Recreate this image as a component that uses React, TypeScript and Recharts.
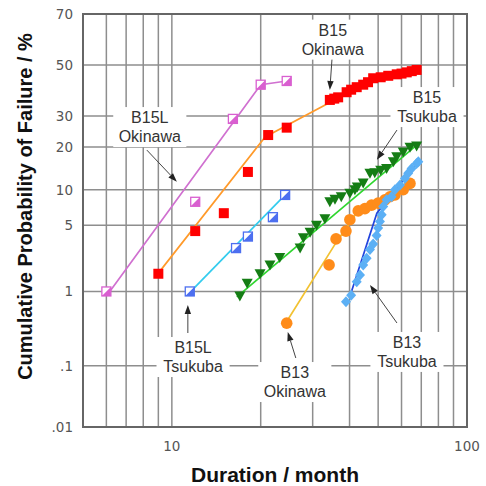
import {
  ScatterChart,
  Scatter,
  XAxis,
  YAxis,
  CartesianGrid,
  ReferenceArea,
  ReferenceDot,
  ReferenceLine,
  Label,
} from "recharts";

// inverse normal CDF (Acklam) -> probability paper
function probit(p: number): number {
  const a = [-39.69683028665376, 220.9460984245205, -275.9285104469687, 138.357751867269, -30.66479806614716, 2.506628277459239];
  const b = [-54.47609879822406, 161.5858368580409, -155.6989798598866, 66.80131188771972, -13.28068155288572];
  const c = [-0.007784894002430293, -0.3223964580411365, -2.400758277161838, -2.549732539343734, 4.374664141464968, 2.938163982698783];
  const d = [0.007784695709041462, 0.3224671290700398, 2.445134137142996, 3.754408661907416];
  const pl = 0.02425;
  if (p < pl) {
    const q = Math.sqrt(-2 * Math.log(p));
    return (((((c[0] * q + c[1]) * q + c[2]) * q + c[3]) * q + c[4]) * q + c[5]) / ((((d[0] * q + d[1]) * q + d[2]) * q + d[3]) * q + 1);
  }
  if (p > 1 - pl) {
    const q = Math.sqrt(-2 * Math.log(1 - p));
    return -(((((c[0] * q + c[1]) * q + c[2]) * q + c[3]) * q + c[4]) * q + c[5]) / ((((d[0] * q + d[1]) * q + d[2]) * q + d[3]) * q + 1);
  }
  const q = p - 0.5;
  const r = q * q;
  return ((((((a[0] * r + a[1]) * r + a[2]) * r + a[3]) * r + a[4]) * r + a[5]) * q) / (((((b[0] * r + b[1]) * r + b[2]) * r + b[3]) * r + b[4]) * r + 1);
}
const z = (pct: number) => probit(pct / 100);

// axes
const xTicks = [6, 7, 8, 9, 10, 20, 30, 40, 50, 60, 70, 80, 90, 100];
const xTickLabels = ["", "", "", "", "10", "", "", "", "", "", "", "", "", "100"];
const yTickPct = [0.01, 0.1, 1, 5, 10, 20, 30, 50, 70];
const yTickLabels = [".01", ".1", "1", "5", "10", "20", "30", "50", "70"];

// B15L Okinawa
const b15lOkiMonths = [6.0, 12, 16.1, 20, 24.5];
const b15lOkiPct = [1.0, 8, 29, 42, 43.5];
const b15lOkiFitMonths = [6.1, 20, 24.5];
const b15lOkiFitPct = [0.95, 42, 43.5];

// B15 Okinawa
const b15OkiMonths = [9, 12, 15, 18.1, 21.2, 24.5, 34.3, 35.5, 36.6, 39.1, 40.5, 42.3, 44.5, 46.2, 48.1, 51, 54.1, 57.8, 60, 62.5, 65, 67.5];
const b15OkiPct = [1.6, 4.4, 6.4, 13.6, 23.6, 26, 36, 36.5, 37, 39, 40, 41, 42, 43, 44.6, 45, 45.6, 46.2, 46.5, 47, 47.5, 48];
const b15OkiFitMonths = [9.1, 20.7, 34.3, 39.1, 44.5, 48.1, 54.1, 62.5, 67.5];
const b15OkiFitPct = [1.7, 23, 35, 39, 42, 44.6, 45.6, 47, 48];

// B15L Tsukuba
const b15lTsuMonths = [11.5, 16.5, 18.1, 22.0, 24.2];
const b15lTsuPct = [1.0, 3.0, 3.9, 5.9, 9.1];
const b15lTsuFitMonths = [11.6, 24.2];
const b15lTsuFitPct = [1.0, 9.1];

// B15 Tsukuba
const b15TsuMonths = [17.0, 18.0, 19.9, 21.5, 23.2, 27.2, 27.9, 29.4, 30.9, 33.0, 34.3, 35.7, 37.5, 40.1, 41.7, 42.5, 44.5, 46.9, 48.7, 51, 53.4, 56.3, 57.8, 60.8, 64.1, 67.5];
const b15TsuPct = [0.88, 1.25, 1.6, 2.0, 2.4, 3.0, 3.8, 4.3, 5.0, 5.7, 8.0, 8.4, 8.8, 9.4, 10, 10.5, 11.3, 13.3, 13.4, 14, 14.4, 16, 17.3, 18.6, 19.9, 20.3];
const b15TsuFitMonths = [16.6, 67.7];
const b15TsuFitPct = [0.86, 20.6];

// B13 Okinawa
const b13OkiMonths = [24.5, 34.1, 36.0, 38.9, 40.1, 42.8, 45.1, 47.5, 50.0, 52.7, 54.8, 57.0, 60.8, 64.1];
const b13OkiPct = [0.4, 2.0, 3.7, 4.4, 5.6, 6.7, 7.0, 7.5, 7.8, 8.3, 8.8, 9.1, 10, 11.2];
const b13OkiFitMonths = [24.5, 36, 42, 52, 62];
const b13OkiFitPct = [0.42, 3.4, 6.3, 8.3, 10.5];

// B13 Tsukuba
const b13TsuMonths = [38.9, 40.5, 42.3, 43.4, 44.5, 45.7, 46.9, 48.1, 49.4, 50.0, 50.7, 51.4, 52.0, 53.4, 55.5, 57.0, 59.3, 61.6, 63.2, 64.9, 67.5, 68.4];
const b13TsuPct = [0.75, 0.9, 1.3, 1.55, 2.0, 2.35, 2.9, 3.3, 4.0, 4.7, 5.4, 6.2, 7.3, 8.3, 8.8, 10, 10.9, 12.2, 13.3, 14.4, 15.6, 16];
const b13TsuFitMonths = [40.1, 49.5, 68.2];
const b13TsuFitPct = [0.87, 6.4, 16];

// callouts
const calloutNames = [["B15L", "Okinawa"], ["B15", "Okinawa"], ["B15", "Tsukuba"], ["B15L", "Tsukuba"], ["B13", "Okinawa"], ["B13", "Tsukuba"]];
const calloutMonths = [8.42, 35.1, 73.2, 11.8, 26.1, 62.6];
const calloutPct = [26.2, 60.3, 33.3, 0.135, 0.0563, 0.16];
const arrowFromMonths = [8.23, 34.9, 57.9, 11.33, 26.3, 57.9];
const arrowFromPct = [19.1, 52.9, 25.2, 0.295, 0.1306, 0.402];
const arrowToMonths = [10.4, 34.3, 49.5, 11.33, 24.7, 46.9];
const arrowToPct = [11.5, 39.9, 16.5, 0.683, 0.304, 1.19];

const pts = (months: number[], pct: number[]) => months.map((m, i) => ({ x: m, y: z(pct[i]) }));

const yMin = z(0.01);
const yMax = z(70);
const yTicks = yTickPct.map(z);

const fmtY = (v: number) => {
  let best = 0;
  yTicks.forEach((t, i) => {
    if (Math.abs(t - v) < Math.abs(yTicks[best] - v)) best = i;
  });
  return yTickLabels[best];
};
const fmtX = (v: number) => {
  const i = xTicks.findIndex((t) => Math.abs(t - v) < 1e-6);
  return i >= 0 ? xTickLabels[i] : "";
};

const NoDot = () => <g />;

const RedSquare = (p: any) => <rect x={p.cx - 5} y={p.cy - 5} width={10} height={10} fill="#ff0000" />;

const halfSquare = (color: string) => (p: any) => (
  <g>
    <rect x={p.cx - 4.5} y={p.cy - 4.5} width={9} height={9} fill="#fff" stroke={color} strokeWidth={1.3} />
    <polygon points={`${p.cx + 4.5},${p.cy - 4.5} ${p.cx + 4.5},${p.cy + 4.5} ${p.cx - 4.5},${p.cy + 4.5}`} fill={color} />
  </g>
);
const PinkSquare = halfSquare("#d95fd0");
const BlueSquare = halfSquare("#4d6ff0");

const GreenTriangle = (p: any) => (
  <polygon points={`${p.cx - 5.5},${p.cy - 4.5} ${p.cx + 5.5},${p.cy - 4.5} ${p.cx},${p.cy + 5.5}`} fill="#157d15" />
);
const OrangeCircle = (p: any) => <circle cx={p.cx} cy={p.cy} r={5.8} fill="#ff8c1a" />;
const BlueDiamond = (p: any) => (
  <polygon points={`${p.cx},${p.cy - 5.5} ${p.cx + 5},${p.cy} ${p.cx},${p.cy + 5.5} ${p.cx - 5},${p.cy}`} fill="#5cb0f5" />
);

const Arrow = (p: any) => {
  const { x1, y1, x2, y2 } = p;
  const ang = Math.atan2(y2 - y1, x2 - x1);
  const L = 9;
  const W = 3.2;
  const bx = x2 - L * Math.cos(ang);
  const by = y2 - L * Math.sin(ang);
  const px = -Math.sin(ang) * W;
  const py = Math.cos(ang) * W;
  return (
    <g>
      <line x1={x1} y1={y1} x2={bx} y2={by} stroke="#444" strokeWidth={1} />
      <polygon points={`${x2},${y2} ${bx + px},${by + py} ${bx - px},${by - py}`} fill="#222" />
    </g>
  );
};

const callout = (lines: string[]) => (p: any) => {
  const w = Math.max(...lines.map((l) => l.length)) * 9.3 + 8;
  return (
    <g>
      <rect x={p.cx - w / 2} y={p.cy - 20} width={w} height={40} fill="#fff" />
      {lines.map((l, i) => (
        <text
          key={i}
          x={p.cx}
          y={p.cy + (i - 0.5) * 19}
          textAnchor="middle"
          dominantBaseline="central"
          fontFamily="'Liberation Sans', Arial, sans-serif"
          fontSize={16}
          fill="#333"
        >
          {l}
        </text>
      ))}
    </g>
  );
};

const fits = [
  { months: b15lOkiFitMonths, pct: b15lOkiFitPct, color: "#d070d0" },
  { months: b15OkiFitMonths, pct: b15OkiFitPct, color: "#ff9a2a" },
  { months: b15lTsuFitMonths, pct: b15lTsuFitPct, color: "#33ccee" },
  { months: b15TsuFitMonths, pct: b15TsuFitPct, color: "#2fd62f" },
  { months: b13OkiFitMonths, pct: b13OkiFitPct, color: "#f2c232" },
  { months: b13TsuFitMonths, pct: b13TsuFitPct, color: "#2244dd" },
];

const tickStyle = { fill: "#555", fontSize: 13.5, fontFamily: "'DejaVu Sans', sans-serif" };

export default function App() {
  return (
    <div style={{ position: "absolute", left: 0, top: 0, width: 486, height: 486, background: "#fff" }}>
      <ScatterChart width={486} height={486} margin={{ top: 14, right: 19, left: 0, bottom: 0 }}>
        <CartesianGrid stroke="#8e8e8e" strokeWidth={1.5} />
        <XAxis
          type="number"
          dataKey="x"
          scale="log"
          domain={[5, 100]}
          ticks={xTicks}
          tickFormatter={fmtX}
          interval={0}
          allowDataOverflow
          axisLine={false}
          tickLine={false}
          tickSize={6}
          tickMargin={8}
          height={59}
          tick={tickStyle}
        >
          <Label
            content={(p: any) => (
              <text
                x={p.viewBox.x + p.viewBox.width / 2}
                y={p.viewBox.y + 55}
                textAnchor="middle"
                fontFamily="'Liberation Sans', Arial, sans-serif"
                fontWeight="bold"
                fontSize={21}
                fill="#111"
              >
                Duration / month
              </text>
            )}
          />
        </XAxis>
        <YAxis
          type="number"
          dataKey="y"
          domain={[yMin, yMax]}
          ticks={yTicks}
          tickFormatter={fmtY}
          interval={0}
          allowDataOverflow
          axisLine={false}
          tickLine={false}
          tickSize={6}
          tickMargin={4}
          width={83}
          tick={tickStyle}
        >
          <Label
            content={(p: any) => {
              const cx = p.viewBox.x + 32;
              const cy = p.viewBox.y + p.viewBox.height / 2 - 14;
              return (
                <text
                  x={cx}
                  y={cy}
                  transform={`rotate(-90 ${cx} ${cy})`}
                  textAnchor="middle"
                  fontFamily="'Liberation Sans', Arial, sans-serif"
                  fontWeight="bold"
                  fontSize={20}
                  fill="#111"
                >
                  Cumulative Probability of Failure / %
                </text>
              );
            }}
          />
        </YAxis>
        <ReferenceArea x1={5} x2={100} y1={yMin} y2={yMax} fill="none" stroke="#666" strokeWidth={2} ifOverflow="visible" />
        {calloutNames.map((lines, i) => (
          <ReferenceDot
            key={"c" + i}
            x={calloutMonths[i]}
            y={z(calloutPct[i])}
            shape={callout(lines)}
          />
        ))}
        {calloutNames.map((_, i) => (
          <ReferenceLine
            key={"a" + i}
            segment={[
              { x: arrowFromMonths[i], y: z(arrowFromPct[i]) },
              { x: arrowToMonths[i], y: z(arrowToPct[i]) },
            ]}
            shape={Arrow}
          />
        ))}
        {fits.map((f, i) => (
          <Scatter
            key={"f" + i}
            data={pts(f.months, f.pct)}
            line={{ stroke: f.color, strokeWidth: 1.7 }}
            lineType="joint"
            shape={NoDot}
            isAnimationActive={false}
          />
        ))}
        <Scatter data={pts(b15lOkiMonths, b15lOkiPct)} shape={PinkSquare} isAnimationActive={false} />
        <Scatter data={pts(b15OkiMonths, b15OkiPct)} shape={RedSquare} isAnimationActive={false} />
        <Scatter data={pts(b15lTsuMonths, b15lTsuPct)} shape={BlueSquare} isAnimationActive={false} />
        <Scatter data={pts(b15TsuMonths, b15TsuPct)} shape={GreenTriangle} isAnimationActive={false} />
        <Scatter data={pts(b13OkiMonths, b13OkiPct)} shape={OrangeCircle} isAnimationActive={false} />
        <Scatter data={pts(b13TsuMonths, b13TsuPct)} shape={BlueDiamond} isAnimationActive={false} />
      </ScatterChart>
    </div>
  );
}
